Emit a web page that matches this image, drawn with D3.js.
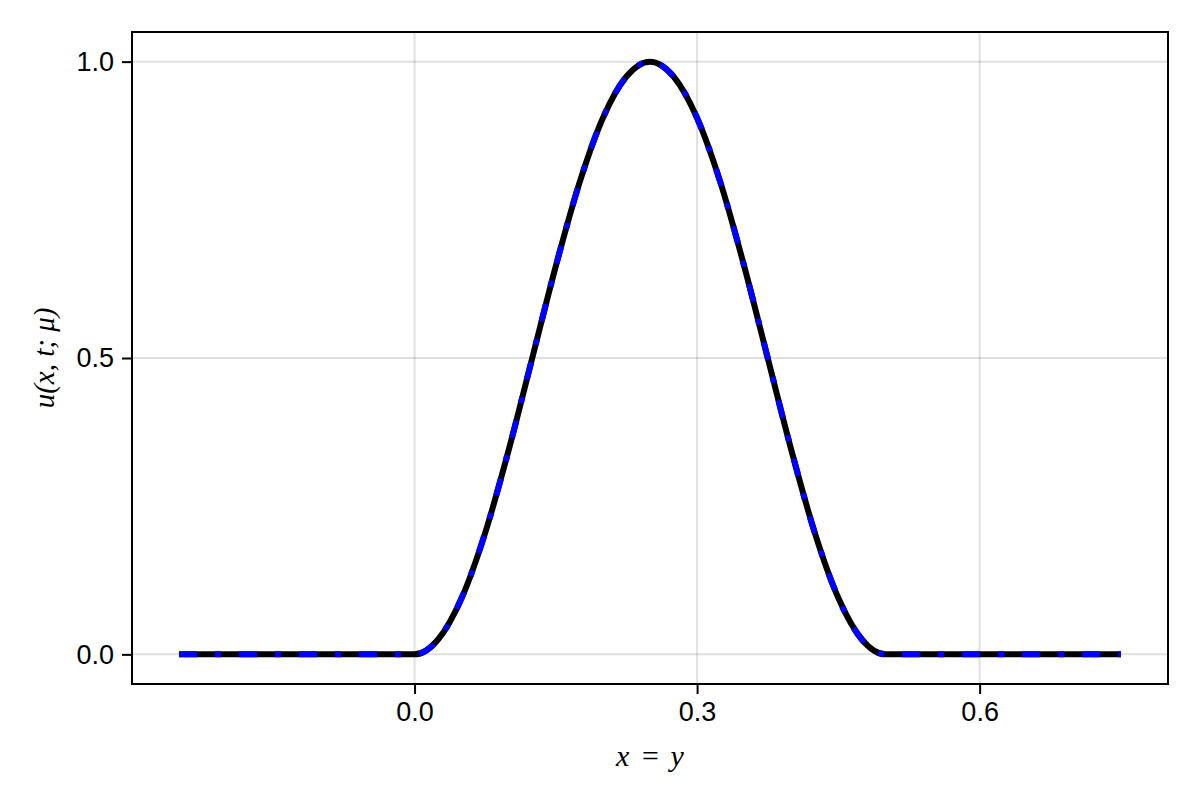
<!DOCTYPE html>
<html>
<head>
<meta charset="utf-8">
<script src="https://cdn.jsdelivr.net/npm/d3@7"></script>
<style>
  body { margin: 0; background: #fff; }
  svg { display: block; }
</style>
</head>
<body>
<div id="chart"></div>
<script>
// sample positions along x = y and values
const xValues = [-0.25, -0.1, 0, 0.025, 0.05, 0.075, 0.1, 0.125, 0.15, 0.175, 0.2, 0.225, 0.25,
  0.275, 0.3, 0.325, 0.35, 0.375, 0.4, 0.425, 0.45, 0.475, 0.5, 0.6, 0.75];
const exactValues = [0, 0, 0, 0.025, 0.095, 0.205, 0.345, 0.5, 0.655, 0.795, 0.905, 0.975, 1,
  0.975, 0.905, 0.795, 0.655, 0.5, 0.345, 0.205, 0.095, 0.025, 0, 0, 0];
const approxValues = exactValues.slice();
const xTicks = [0.0, 0.3, 0.6];
const yTicks = [0.0, 0.5, 1.0];

const width = 1200, height = 800;
const margin = { top: 32, right: 32, bottom: 116, left: 132 };
const tickFont = '"Liberation Sans", Arial, sans-serif';
const mathFont = '"Liberation Serif", "DejaVu Serif", serif';

const svg = d3.select('#chart').append('svg')
  .attr('width', width)
  .attr('height', height);

const x = d3.scaleLinear().domain([-0.3, 0.8]).range([margin.left, width - margin.right]);
const y = d3.scaleLinear().domain([-0.05, 1.05]).range([height - margin.bottom, margin.top]);

// grid
svg.append('g')
  .selectAll('line')
  .data(xTicks)
  .join('line')
  .attr('x1', (d) => x(d)).attr('x2', (d) => x(d))
  .attr('y1', margin.top).attr('y2', height - margin.bottom)
  .attr('stroke', '#000').attr('stroke-opacity', 0.12).attr('stroke-width', 2);

svg.append('g')
  .selectAll('line')
  .data(yTicks)
  .join('line')
  .attr('y1', (d) => y(d)).attr('y2', (d) => y(d))
  .attr('x1', margin.left).attr('x2', width - margin.right)
  .attr('stroke', '#000').attr('stroke-opacity', 0.12).attr('stroke-width', 2);

// lines
const pts = (vals) => xValues.map((v, i) => [v, vals[i]]);
const line = d3.line()
  .x((d) => x(d[0]))
  .y((d) => y(d[1]))
  .curve(d3.curveMonotoneX);

const plot = svg.append('g');

plot.append('path')
  .datum(pts(exactValues))
  .attr('d', line)
  .attr('fill', 'none')
  .attr('stroke', '#000')
  .attr('stroke-width', 6)
  .attr('stroke-linejoin', 'round');

plot.append('path')
  .datum(pts(approxValues))
  .attr('d', line)
  .attr('fill', 'none')
  .attr('stroke', '#0000ff')
  .attr('stroke-width', 6)
  .attr('stroke-dasharray', '18,18,6,18');

// axes
const xAxis = svg.append('g')
  .attr('transform', `translate(0,${height - margin.bottom})`)
  .call(d3.axisBottom(x).tickValues(xTicks).tickFormat(d3.format('.1f')).tickSize(10).tickPadding(8));

const yAxis = svg.append('g')
  .attr('transform', `translate(${margin.left},0)`)
  .call(d3.axisLeft(y).tickValues(yTicks).tickFormat(d3.format('.1f')).tickSize(10).tickPadding(8));

[xAxis, yAxis].forEach((a) => {
  a.select('.domain').remove();
  a.selectAll('.tick line').attr('stroke', '#000').attr('stroke-width', 2);
  a.selectAll('.tick text')
    .attr('fill', '#000')
    .style('font-family', tickFont)
    .style('font-size', '27px');
});

// frame
svg.append('rect')
  .attr('x', margin.left).attr('y', margin.top)
  .attr('width', width - margin.left - margin.right)
  .attr('height', height - margin.top - margin.bottom)
  .attr('fill', 'none')
  .attr('stroke', '#000')
  .attr('stroke-width', 2);

// axis labels
svg.append('text')
  .attr('x', (margin.left + width - margin.right) / 2)
  .attr('y', 766)
  .attr('text-anchor', 'middle')
  .style('font-family', mathFont)
  .style('font-style', 'italic')
  .style('font-size', '30px')
  .style('word-spacing', '3px')
  .text('x = y');

svg.append('text')
  .attr('transform', `translate(54,${(margin.top + height - margin.bottom) / 2}) rotate(-90)`)
  .attr('text-anchor', 'middle')
  .style('font-family', mathFont)
  .style('font-style', 'italic')
  .style('font-size', '29px')
  .text('u(x, t; μ)');
</script>
</body>
</html>
